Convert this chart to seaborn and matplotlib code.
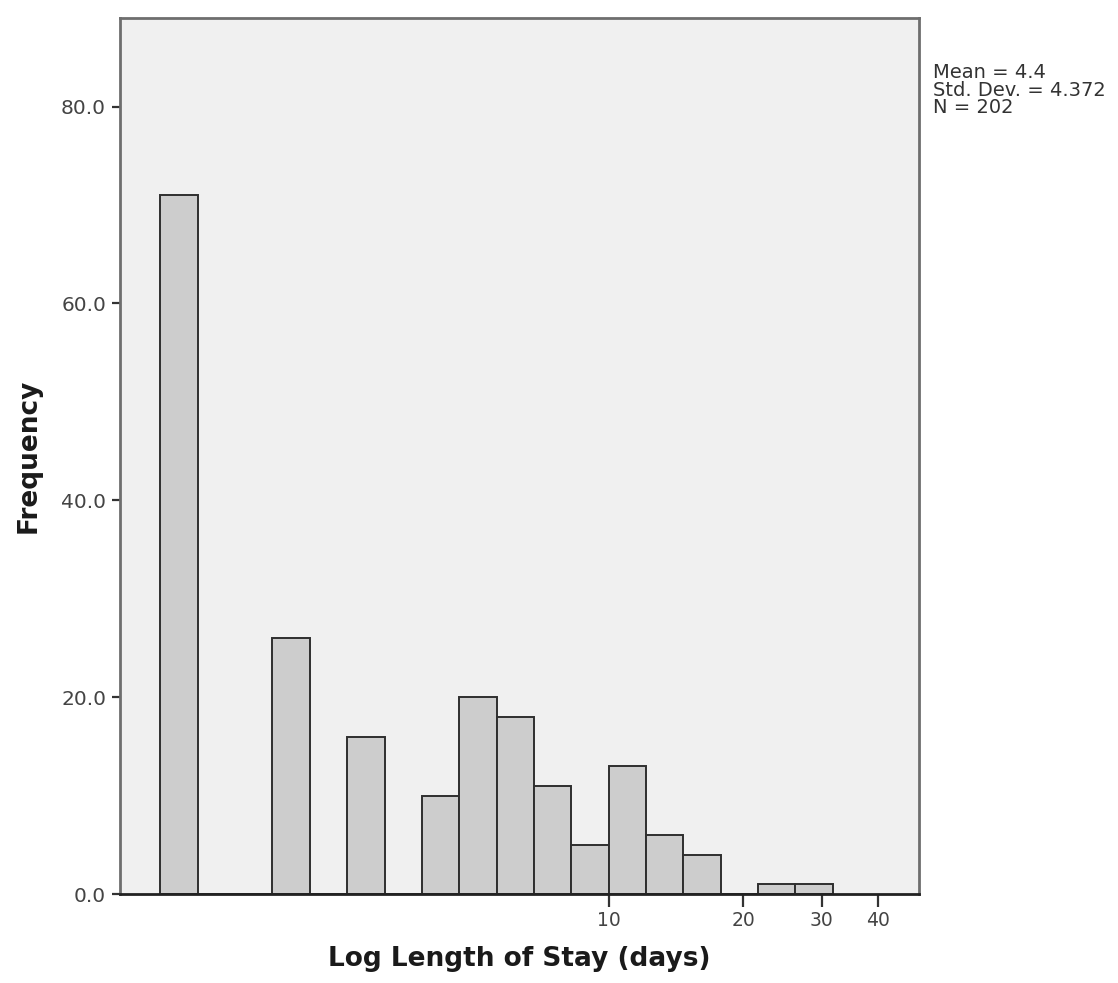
import matplotlib
matplotlib.use("Agg")
import matplotlib.pyplot as plt
from matplotlib.ticker import FixedLocator, FixedFormatter, FormatStrFormatter, NullLocator
import numpy as np
import pandas as pd
import seaborn as sns

# Representative length of stay (days) for each occupied bin, and its frequency
days = [1, 2, 3, 4, 5, 6, 7, 9, 11, 13, 16, 24, 29]
counts = [71, 26, 16, 10, 20, 18, 11, 5, 13, 6, 4, 1, 1]
x_ticks = [10, 20, 30, 40]
x_tick_labels = ["10", "20", "30", "40"]
y_ticks = [0, 20, 40, 60, 80]
stats_text = "Mean = 4.4\nStd. Dev. = 4.372\nN = 202"

df = pd.DataFrame({"days": days, "count": counts})

sns.set_style("white")
plt.rcParams["font.family"] = ["DejaVu Sans"]

fig = plt.figure(figsize=(11.18, 9.83), dpi=100)
ax = fig.add_axes([120 / 1118, 1 - 894 / 983, (919 - 120) / 1118, (894 - 18) / 983])
ax.set_facecolor("#f0f0f0")

# bin edges in log10 units: width ~0.0836 decade, one edge at log10(10)=1
bw = 0.0836
start = 1 - 12 * bw
sns.histplot(data=df, x="days", weights="count", log_scale=True,
             binwidth=bw, binrange=(start, start + 18 * bw),
             color="#cdcdcd", alpha=1, edgecolor="#2e2e2e", linewidth=1.4,
             ax=ax)

ax.set_xlim(0.806, 49.5)
ax.set_ylim(0, 89)

ax.xaxis.set_major_locator(FixedLocator(x_ticks))
ax.xaxis.set_major_formatter(FixedFormatter(x_tick_labels))
ax.xaxis.set_minor_locator(NullLocator())
ax.yaxis.set_major_locator(FixedLocator(y_ticks))
ax.yaxis.set_major_formatter(FormatStrFormatter("%.1f"))

ax.tick_params(axis="x", which="major", direction="out", length=9, width=1.6,
               color="#333333", labelsize=13.5, labelcolor="#444444", pad=3, bottom=True)
ax.tick_params(axis="y", which="major", direction="out", length=6, width=1.6,
               color="#333333", labelsize=14.5, labelcolor="#444444", pad=4, left=True)

for side in ["top", "right", "left"]:
    ax.spines[side].set_visible(True)
    ax.spines[side].set_color("#6e6e6e")
    ax.spines[side].set_linewidth(2.0)
ax.spines["bottom"].set_color("#222222")
ax.spines["bottom"].set_linewidth(2.0)

ax.set_xlabel("Log Length of Stay (days)", fontsize=19, fontweight="bold",
              color="#1a1a1a", labelpad=12)
ax.set_ylabel("Frequency", fontsize=19, fontweight="bold", color="#1a1a1a",
              labelpad=14)

fig.text(933 / 1118, 1 - 63 / 983, stats_text, ha="left", va="top",
         fontsize=14, color="#333333", linespacing=0.9)

fig.savefig("out.png", dpi=100, facecolor="white")
